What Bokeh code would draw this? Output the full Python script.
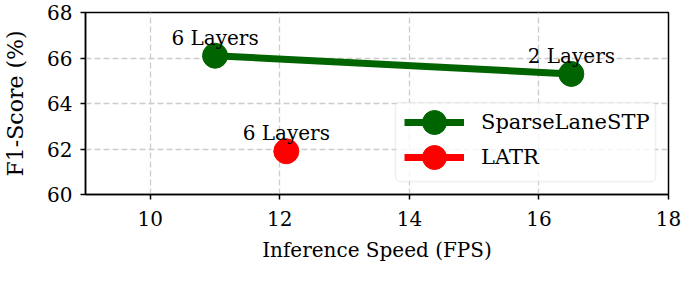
from bokeh.plotting import figure
from bokeh.models import (ColumnDataSource, Legend, LegendItem, BoxAnnotation,
                          FixedTicker, Range1d)
from bokeh.core.properties import value
from bokeh.embed import file_html
from bokeh.resources import INLINE

# ---- data ----
sparse_fps = [11.0, 16.5]
sparse_f1 = [66.1, 65.3]
sparse_labels = ["6 Layers", "2 Layers"]

latr_fps = [12.1]
latr_f1 = [61.9]
latr_labels = ["6 Layers"]

x_ticks = [10, 12, 14, 16, 18]
y_ticks = [60, 62, 64, 66, 68]
x_title = "Inference Speed (FPS)"
y_title = "F1-Score (%)"

FONT = "DejaVu Serif"
GREEN = "#006400"
RED = "#ff0000"

W, H = 682, 266
MB_L, MB_R, MB_T, MB_B = 82, 14, 12, 72

p = figure(width=W, height=H, output_backend="svg", toolbar_location=None,
           x_range=Range1d(9, 18), y_range=Range1d(60, 68),
           min_border_left=MB_L, min_border_right=MB_R,
           min_border_top=MB_T, min_border_bottom=MB_B)
p.background_fill_color = "white"
p.border_fill_color = "white"
p.outline_line_color = "black"
p.outline_line_width = 1.5
p.outline_line_alpha = 1.0

src_s = ColumnDataSource(dict(x=sparse_fps, y=sparse_f1, label=sparse_labels))
src_l = ColumnDataSource(dict(x=latr_fps, y=latr_f1, label=latr_labels))

gl = p.line("x", "y", source=src_s, line_color=GREEN, line_width=7)
gs = p.scatter("x", "y", source=src_s, size=25, fill_color=GREEN, line_color=GREEN)
rl = p.line("x", "y", source=src_l, line_color=RED, line_width=7)
rs = p.scatter("x", "y", source=src_l, size=25, fill_color=RED, line_color=RED)

for src in (src_s, src_l):
    p.text("x", "y", text="label", source=src, text_align="center",
           text_baseline="alphabetic", y_offset=-18,
           text_font=value(FONT), text_font_size="20px", text_color="black")

# axes
for ax in (p.xaxis, p.yaxis):
    ax.axis_line_width = 1.5
    ax.axis_line_color = "black"
    ax.major_tick_line_width = 1.5
    ax.major_tick_line_color = "black"
    ax.major_tick_out = 5
    ax.major_tick_in = 0
    ax.minor_tick_out = 0
    ax.minor_tick_in = 0
    ax.major_label_text_font = FONT
    ax.major_label_text_font_size = "20px"
    ax.major_label_text_color = "black"
    ax.axis_label_text_font = FONT
    ax.axis_label_text_font_style = "normal"
    ax.axis_label_text_color = "black"

p.xaxis.ticker = FixedTicker(ticks=x_ticks)
p.yaxis.ticker = FixedTicker(ticks=y_ticks)
p.xaxis.axis_label = x_title
p.xaxis.axis_label_text_font_size = "20px"
p.yaxis.axis_label = y_title
p.yaxis.axis_label_text_font_size = "22px"
p.xaxis.major_label_standoff = 11
p.xaxis.axis_label_standoff = 9
p.yaxis.major_label_standoff = 8
p.yaxis.axis_label_standoff = 16

for g in (p.xgrid, p.ygrid):
    g.grid_line_color = "#cccccc"
    g.grid_line_width = 1.3
    g.grid_line_dash = "6 3"
p.xgrid.ticker = FixedTicker(ticks=x_ticks)
p.ygrid.ticker = FixedTicker(ticks=y_ticks)

# legend frame (canvas units, y measured from canvas top)
frame_w = W - MB_L - MB_R
frame_b = H - MB_B
frame_r = W - MB_R
box = BoxAnnotation(left=frame_r - 273, right=frame_r - 13,
                    top=frame_b - 92, bottom=frame_b - 13,
                    left_units="canvas", right_units="canvas",
                    top_units="canvas", bottom_units="canvas",
                    fill_color="white", fill_alpha=0.8,
                    line_color="#cccccc", line_width=1.5, border_radius=4)
p.add_layout(box)

leg_x = frame_w - 267
for items, ly in (([LegendItem(label="SparseLaneSTP", renderers=[gl, gs])], 42),
                  ([LegendItem(label="LATR", renderers=[rl, rs])], 7)):
    leg = Legend(items=items, location=(leg_x, ly), glyph_width=60, glyph_height=60,
                 padding=0, margin=0, spacing=0, label_standoff=17,
                 border_line_color=None, background_fill_alpha=0,
                 label_text_font=FONT, label_text_font_size="21px",
                 label_text_color="black")
    p.add_layout(leg)

open("out.html", "w").write(file_html(p, INLINE))
